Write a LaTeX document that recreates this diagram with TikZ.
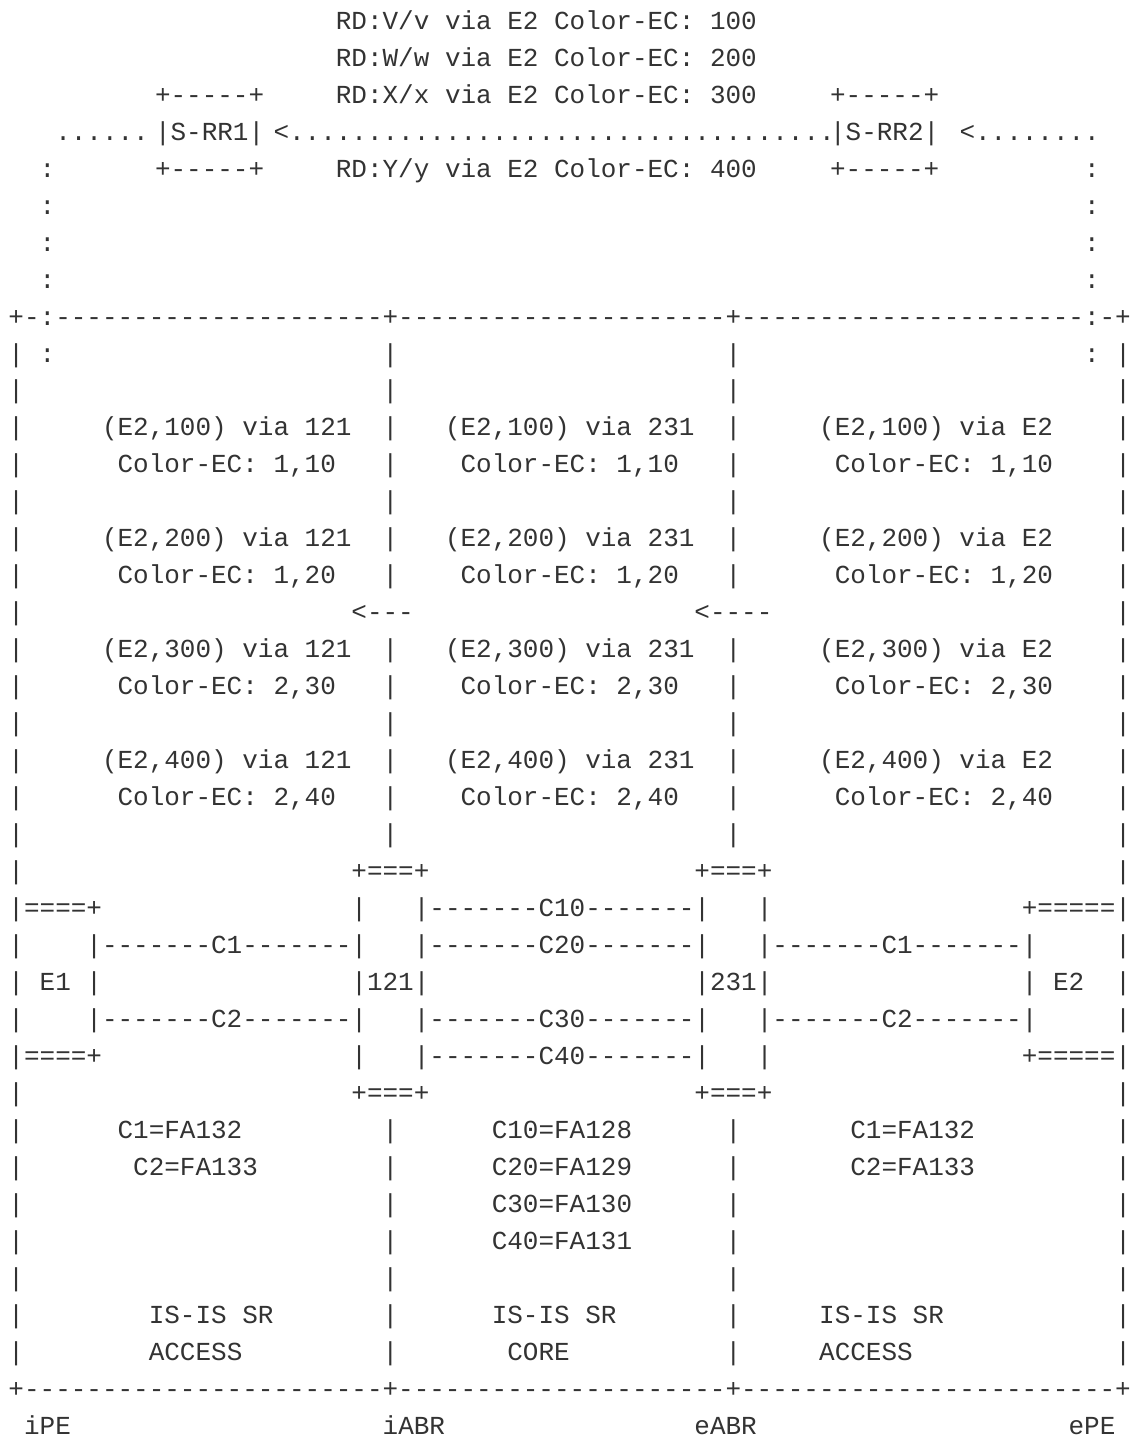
\documentclass[tikz,border=0pt]{standalone}
\usepackage{fontspec}
\newfontfamily\mono{Liberation Mono}
\definecolor{ink}{HTML}{333333}
\ExplSyntaxOn
\cs_new:Npn \Rep #1#2 { \prg_replicate:nn {#1} {#2{}} }
\ExplSyntaxOff
\newcommand\Dsh[1]{\Rep{#1}{-}}
\tikzset{txt/.style={anchor=base west, inner sep=0pt, outer sep=0pt, text=ink,
  font=\mono\fontsize{25.98pt}{31pt}\selectfont}}
% \T{row}{column}{text}: one run of characters on the character grid
\newcommand\T[3]{\node[txt] (r#1c#2) at ({8.5+15.59*#2},{1407.7-36.97*(#1-1)}) {#3};}
\newcommand\Bars[1]{\T{#1}{0}{|}\T{#1}{24}{|}\T{#1}{46}{|}\T{#1}{71}{|}}
\begin{document}
\begin{tikzpicture}[x=1pt,y=1pt]
\fill[white] (0,0) rectangle (1131,1437);
\useasboundingbox (0,0) rectangle (1131,1437);
% top: route reflectors
\T{1}{21}{RD:V/v via E2 Color-EC: 100}
\T{2}{21}{RD:W/w via E2 Color-EC: 200}
\T{3}{9.4}{+\Dsh{5}+}
\T{3}{21}{RD:X/x via E2 Color-EC: 300}
\T{3}{52.7}{+\Dsh{5}+}
\T{4}{3}{......}
\T{4}{9.4}{|S-RR1|}
\T{4}{17}{<\Rep{35}{.}}
\T{4}{52.7}{|S-RR2|}
\T{4}{61}{<\Rep{8}{.}}
\T{5}{2}{:}
\T{5}{9.4}{+\Dsh{5}+}
\T{5}{21}{RD:Y/y via E2 Color-EC: 400}
\T{5}{52.7}{+\Dsh{5}+}
\T{5}{69}{:}
\T{6}{2}{:}\T{6}{69}{:}
\T{7}{2}{:}\T{7}{69}{:}
\T{8}{2}{:}\T{8}{69}{:}
% domain box
\T{9}{0}{+-:\Dsh{21}+\Dsh{21}+\Dsh{22}:-+}
\T{10}{0}{| :}\T{10}{24}{|}\T{10}{46}{|}\T{10}{69}{:}\T{10}{71}{|}
\Bars{11}
\Bars{12}
\T{12}{6}{(E2,100) via 121}\T{12}{28}{(E2,100) via 231}\T{12}{52}{(E2,100) via E2}
\Bars{13}
\T{13}{7}{Color-EC: 1,10}\T{13}{29}{Color-EC: 1,10}\T{13}{53}{Color-EC: 1,10}
\Bars{14}
\Bars{15}
\T{15}{6}{(E2,200) via 121}\T{15}{28}{(E2,200) via 231}\T{15}{52}{(E2,200) via E2}
\Bars{16}
\T{16}{7}{Color-EC: 1,20}\T{16}{29}{Color-EC: 1,20}\T{16}{53}{Color-EC: 1,20}
\T{17}{0}{|}\T{17}{22}{<\Dsh{3}}\T{17}{44}{<\Dsh{4}}\T{17}{71}{|}
\Bars{18}
\T{18}{6}{(E2,300) via 121}\T{18}{28}{(E2,300) via 231}\T{18}{52}{(E2,300) via E2}
\Bars{19}
\T{19}{7}{Color-EC: 2,30}\T{19}{29}{Color-EC: 2,30}\T{19}{53}{Color-EC: 2,30}
\Bars{20}
\Bars{21}
\T{21}{6}{(E2,400) via 121}\T{21}{28}{(E2,400) via 231}\T{21}{52}{(E2,400) via E2}
\Bars{22}
\T{22}{7}{Color-EC: 2,40}\T{22}{29}{Color-EC: 2,40}\T{22}{53}{Color-EC: 2,40}
\Bars{23}
% links and border routers
\T{24}{0}{|}\T{24}{22}{+===+}\T{24}{44}{+===+}\T{24}{71}{|}
\T{25}{0}{|====+}\T{25}{22}{|}\T{25}{26}{|\Dsh{7}C10\Dsh{7}|}\T{25}{48}{|}\T{25}{65}{+=====|}
\T{26}{0}{|}\T{26}{5}{|\Dsh{7}C1\Dsh{7}|}\T{26}{26}{|\Dsh{7}C20\Dsh{7}|}\T{26}{48}{|\Dsh{7}C1\Dsh{7}|}\T{26}{71}{|}
\T{27}{0}{| E1 |}\T{27}{22}{|121|}\T{27}{44}{|231|}\T{27}{65}{| E2}\T{27}{71}{|}
\T{28}{0}{|}\T{28}{5}{|\Dsh{7}C2\Dsh{7}|}\T{28}{26}{|\Dsh{7}C30\Dsh{7}|}\T{28}{48}{|\Dsh{7}C2\Dsh{7}|}\T{28}{71}{|}
\T{29}{0}{|====+}\T{29}{22}{|}\T{29}{26}{|\Dsh{7}C40\Dsh{7}|}\T{29}{48}{|}\T{29}{65}{+=====|}
\T{30}{0}{|}\T{30}{22}{+===+}\T{30}{44}{+===+}\T{30}{71}{|}
% flex-algo mapping
\Bars{31}
\T{31}{7}{C1=FA132}\T{31}{31}{C10=FA128}\T{31}{54}{C1=FA132}
\Bars{32}
\T{32}{8}{C2=FA133}\T{32}{31}{C20=FA129}\T{32}{54}{C2=FA133}
\Bars{33}
\T{33}{31}{C30=FA130}
\Bars{34}
\T{34}{31}{C40=FA131}
\Bars{35}
\Bars{36}
\T{36}{9}{IS-IS SR}\T{36}{31}{IS-IS SR}\T{36}{52}{IS-IS SR}
\Bars{37}
\T{37}{9}{ACCESS}\T{37}{32}{CORE}\T{37}{52}{ACCESS}
\T{38}{0}{+\Dsh{23}+\Dsh{21}+\Dsh{24}+}
% node names
\T{39}{1}{iPE}\T{39}{24}{iABR}\T{39}{44}{eABR}\T{39}{68}{ePE}
\end{tikzpicture}
\end{document}
